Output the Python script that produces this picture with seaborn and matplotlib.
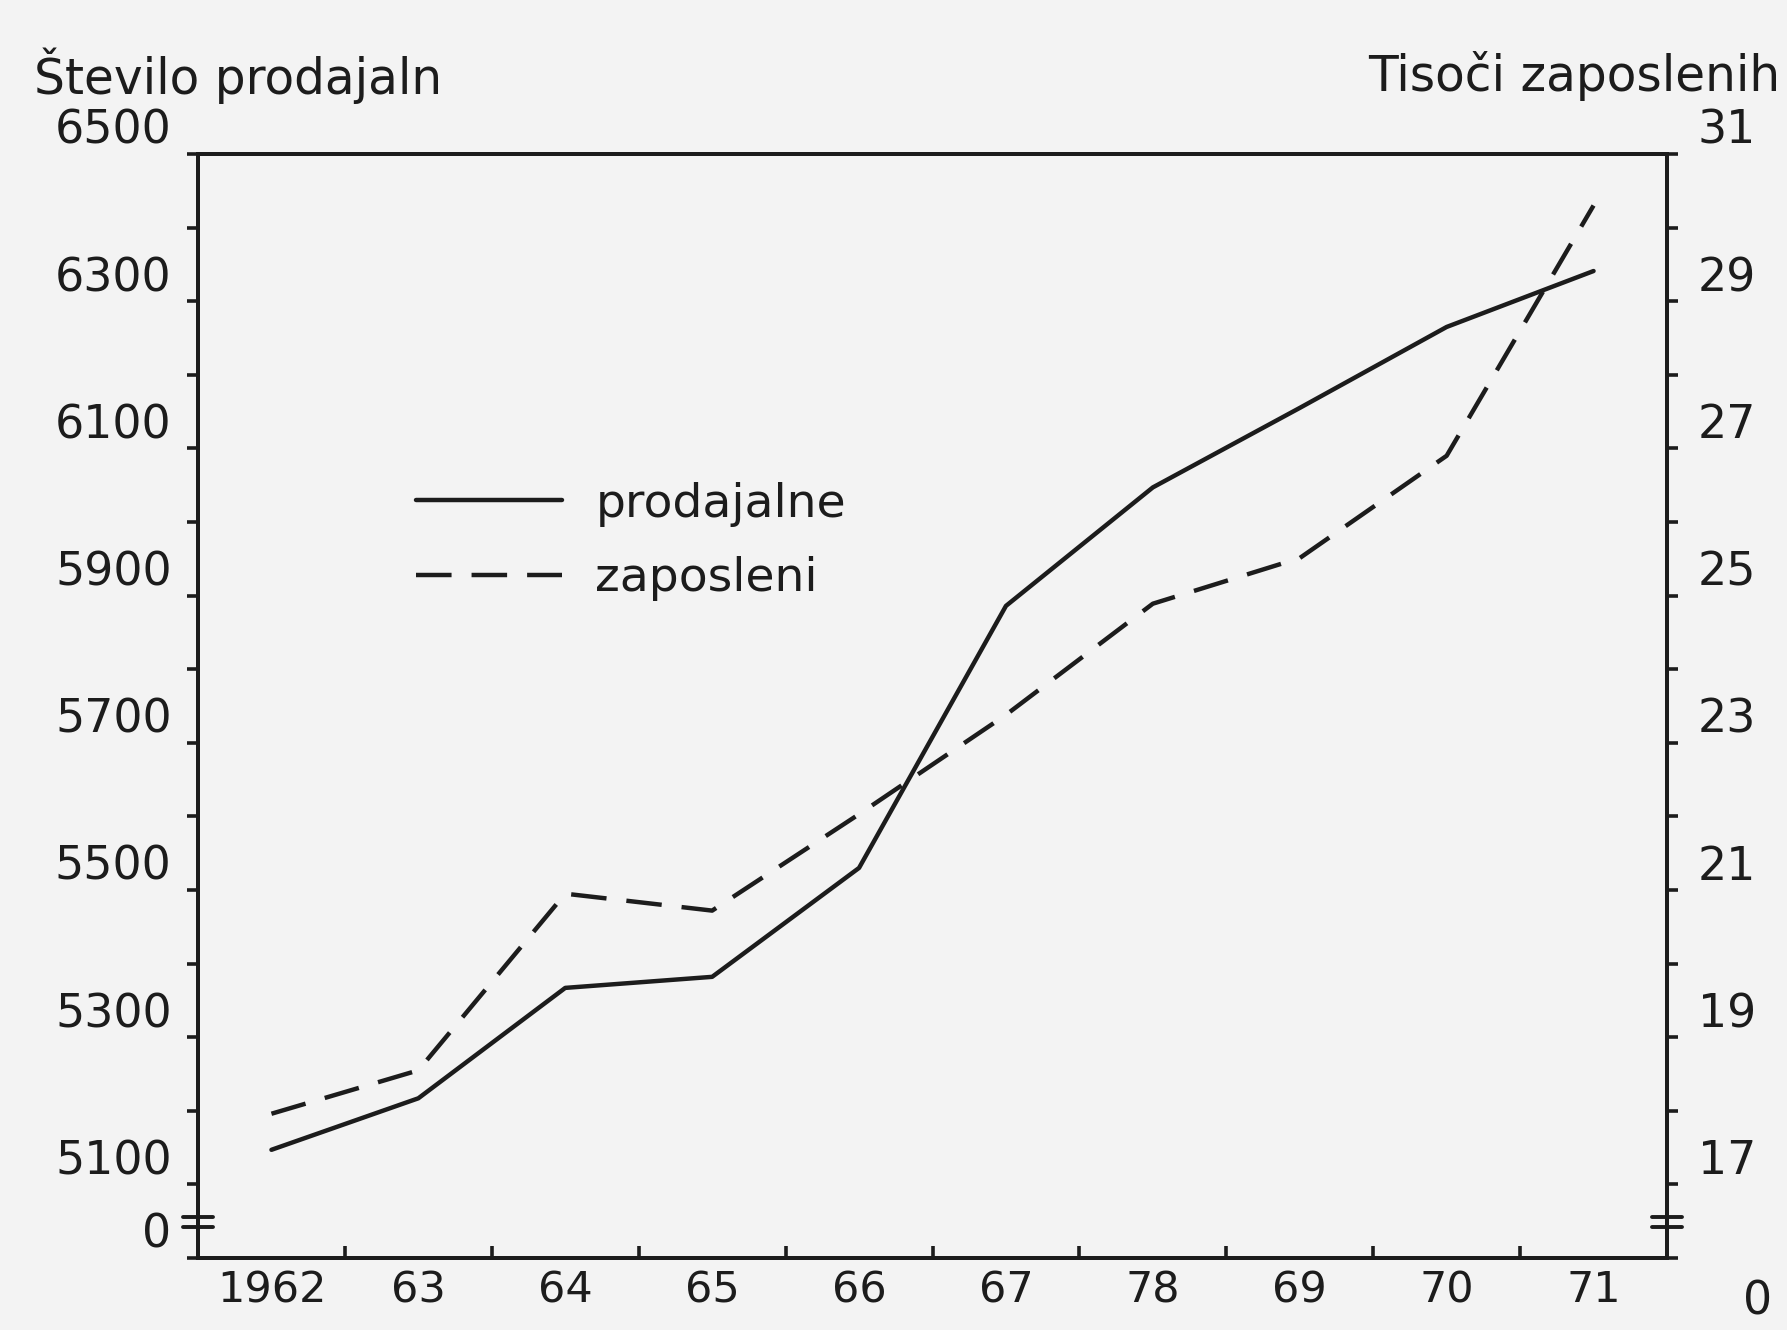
import numpy as np
import pandas as pd
import matplotlib
matplotlib.use("Agg")
import matplotlib.pyplot as plt
import matplotlib.transforms as mtransforms
import seaborn as sns

# ---- data ----
years = ["1962", "63", "64", "65", "66", "67", "78", "69", "70", "71"]
prodajalne = [5147, 5217, 5367, 5382, 5530, 5886, 6047, 6155, 6265, 6341]
zaposleni = [17.96, 18.55, 20.95, 20.72, 22.03, 23.38, 24.89, 25.51, 26.90, 30.30]
left_ticks = [5100, 5300, 5500, 5700, 5900, 6100, 6300, 6500]
left_minor = [5200, 5400, 5600, 5800, 6000, 6200, 6400]
right_ticks = [17, 19, 21, 23, 25, 27, 29, 31]
right_minor = [18, 20, 22, 24, 26, 28, 30]
left_title = "Število prodajaln"
right_title = "Tisoči zaposlenih"
legend_labels = ["prodajalne", "zaposleni"]

sns.set_theme(style="ticks")
plt.rcParams["font.family"] = ["DejaVu Sans"]

bg = "#f3f3f3"
ink = "#1c1c1c"
W, H = 1787, 1330
fs_tick = 33
fs_x = 31
fs_title = 35
fs_leg = 34

fig = plt.figure(figsize=(W / 100, H / 100), dpi=100, facecolor=bg)
L, R, T, B = 198, 1667, 154, 1258
ax = fig.add_axes([L / W, 1 - B / H, (R - L) / W, (B - T) / H])
ax.set_facecolor(bg)

df = pd.DataFrame({"x": np.arange(len(years)), "prodajalne": prodajalne, "zaposleni": zaposleni})

sns.lineplot(data=df, x="x", y="prodajalne", ax=ax, color=ink, lw=3.2, legend=False)
ax2 = ax.twinx()
sns.lineplot(data=df, x="x", y="zaposleni", ax=ax2, color=ink, lw=3.2, legend=False)
ax2.lines[0].set_dashes((8.0, 4.5))
ax2.set_zorder(ax.get_zorder() + 1)
ax2.patch.set_visible(False)

ax.set_xlim(-0.5, len(years) - 0.5)
ax.set_ylim(5000, 6500)
ax2.set_ylim(16, 31)

ax.set_xlabel("")
ax.set_ylabel("")
ax2.set_ylabel("")

# x ticks: marks between years, labels centered on years
ax.set_xticks(np.arange(0.5, len(years) - 1, 1.0))
ax.set_xticklabels([])
ax.set_xticks(np.arange(len(years)), minor=True)
ax.set_xticklabels(years, minor=True, fontsize=fs_x, color=ink)
ax.tick_params(axis="x", which="major", direction="in", length=9, width=2.6, color=ink)
ax.tick_params(axis="x", which="minor", length=0, pad=8)

# left y ticks
ax.set_yticks([5000] + left_ticks)
ax.set_yticklabels(["0"] + [str(v) for v in left_ticks], fontsize=fs_tick, color=ink, va="bottom")
ax.set_yticks(left_minor, minor=True)
ax.tick_params(axis="y", which="both", direction="out", length=8, width=2.6, color=ink, pad=11)

# right y ticks
ax2.set_yticks([16] + right_ticks)
ax2.set_yticklabels([""] + [str(v) for v in right_ticks], fontsize=fs_tick, color=ink, va="bottom")
ax2.set_yticks(right_minor, minor=True)
ax2.tick_params(axis="y", which="both", direction="out", length=8, width=2.6, color=ink, pad=14)

for a in (ax, ax2):
    for s in a.spines.values():
        s.set_visible(True)
        s.set_color(ink)
        s.set_linewidth(2.8)

# axis-break marks near the bottom of both vertical axes
dx = 15 / (R - L)
trans = mtransforms.blended_transform_factory(ax.transAxes, ax.transData)
for xa in (0.0, 1.0):
    for yv in (5042, 5056):
        ax.plot([xa - dx, xa + dx], [yv, yv], color=ink, lw=2.8, transform=trans, clip_on=False)

# legend
handles = [ax.lines[0], ax2.lines[0]]
ax.legend(handles, legend_labels, loc="upper left", bbox_to_anchor=(416 / W, 1 - 482 / H),
          bbox_transform=fig.transFigure, frameon=False, fontsize=fs_leg, handlelength=3.1,
          handletextpad=0.7, labelspacing=0.62, borderpad=0, borderaxespad=0,
          labelcolor=ink)

# axis titles and lone right-side zero
fig.text(34 / W, 1 - 76 / H, left_title, ha="left", va="center", fontsize=fs_title, color=ink)
fig.text(1780 / W, 1 - 76 / H, right_title, ha="right", va="center", fontsize=fs_title, color=ink)
fig.text(1758 / W, 1 - 1302 / H, "0", ha="center", va="center", fontsize=fs_tick, color=ink)

fig.savefig("out.png", dpi=100, facecolor=bg)
